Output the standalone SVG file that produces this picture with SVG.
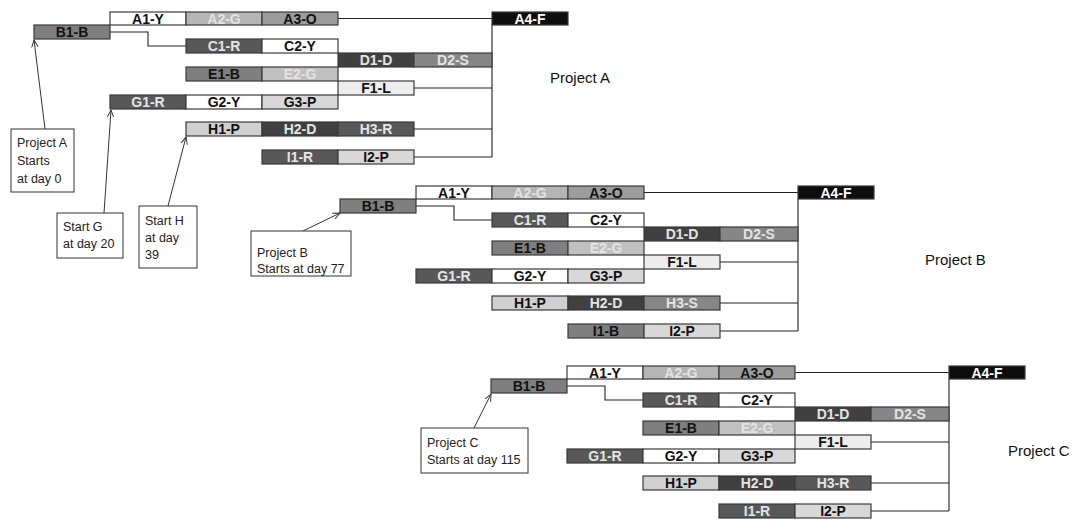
<svg xmlns="http://www.w3.org/2000/svg" width="1077" height="520" viewBox="0 0 1077 520">
<defs>
<style>
.bar rect{stroke:#3a3a3a;stroke-width:1.2}
.bar text{font-family:"Liberation Sans",Arial,sans-serif;font-size:14px;font-weight:bold;text-anchor:middle}
.wh{fill:#ffffff}.a2{fill:#b5b5b5}.a3{fill:#9c9c9c}.blk{fill:#0d0d0d}.bb{fill:#7f7f7f}
.dr{fill:#585858}.dd{fill:#404040}.ds{fill:#868686}.eg{fill:#c0c0c0}.fl{fill:#ededed}.gp{fill:#d8d8d8}.hp{fill:#d0d0d0}
.td{fill:#111111}.tl{fill:#e4e4e4}.tw{fill:#ffffff}
.conn{fill:none;stroke:#222;stroke-width:1.1}
.call rect{fill:#fff;stroke:#333;stroke-width:1}
.call line{stroke:#333;stroke-width:1}
.call text{font-family:"Liberation Sans",Arial,sans-serif;font-size:12.5px;fill:#222}
.lbl{font-family:"Liberation Sans",Arial,sans-serif;font-size:15px;fill:#111}
</style>
<marker id="arr" viewBox="0 0 10 10" refX="9" refY="5" markerWidth="8" markerHeight="8" orient="auto" markerUnits="userSpaceOnUse">
<path d="M0,1 L9,5 L0,9" fill="none" stroke="#333" stroke-width="1.2"/>
</marker>
</defs>

<!-- connectors -->
<g id="connectors">
<g id="conn-A">
<path class="conn" d="M338,18.5 H492 M110,32 H148 V46 H186 M414,88 H492 M414,129 H492 M414,157 H492 M492,25 V157"/>
</g>
<g id="conn-B" transform="translate(306,174)">
<path class="conn" d="M338,18.5 H492 M110,32 H148 V46 H186 M414,88 H492 M414,129 H492 M414,157 H492 M492,25 V157"/>
</g>
<g id="conn-C" transform="translate(457,354)">
<path class="conn" d="M338,18.5 H492 M110,32 H148 V46 H186 M414,88 H492 M414,129 H492 M414,157 H492 M492,25 V157"/>
</g>
</g>

<!-- Project A -->
<g id="projA">
<g id="A-A1-Y" class="bar"><rect class="wh" x="110" y="12" width="76" height="13"/><text class="td" x="148" y="24">A1-Y</text></g>
<g id="A-A2-G" class="bar"><rect class="a2" x="186" y="12" width="76" height="13"/><text class="tl" x="224" y="24">A2-G</text></g>
<g id="A-A3-O" class="bar"><rect class="a3" x="262" y="12" width="76" height="13"/><text class="td" x="300" y="24">A3-O</text></g>
<g id="A-A4-F" class="bar"><rect class="blk" x="492" y="12" width="76" height="13"/><text class="tw" x="530" y="24">A4-F</text></g>
<g id="A-B1-B" class="bar"><rect class="bb" x="34" y="25" width="76" height="14"/><text class="td" x="72" y="37">B1-B</text></g>
<g id="A-C1-R" class="bar"><rect class="dr" x="186" y="39" width="76" height="14"/><text class="tl" x="224" y="51">C1-R</text></g>
<g id="A-C2-Y" class="bar"><rect class="wh" x="262" y="39" width="76" height="14"/><text class="td" x="300" y="51">C2-Y</text></g>
<g id="A-D1-D" class="bar"><rect class="dd" x="338" y="53" width="76" height="14"/><text class="tl" x="376" y="65">D1-D</text></g>
<g id="A-D2-S" class="bar"><rect class="ds" x="414" y="53" width="78" height="14"/><text class="tl" x="453" y="65">D2-S</text></g>
<g id="A-E1-B" class="bar"><rect class="bb" x="186" y="67" width="76" height="14"/><text class="td" x="224" y="79">E1-B</text></g>
<g id="A-E2-G" class="bar"><rect class="eg" x="262" y="67" width="76" height="14"/><text class="tl" x="300" y="79">E2-G</text></g>
<g id="A-F1-L" class="bar"><rect class="fl" x="338" y="81" width="76" height="14"/><text class="td" x="376" y="93">F1-L</text></g>
<g id="A-G1-R" class="bar"><rect class="dr" x="110" y="95" width="76" height="14"/><text class="tl" x="148" y="107">G1-R</text></g>
<g id="A-G2-Y" class="bar"><rect class="wh" x="186" y="95" width="76" height="14"/><text class="td" x="224" y="107">G2-Y</text></g>
<g id="A-G3-P" class="bar"><rect class="gp" x="262" y="95" width="76" height="14"/><text class="td" x="300" y="107">G3-P</text></g>
<g id="A-H1-P" class="bar"><rect class="hp" x="186" y="122" width="76" height="14"/><text class="td" x="224" y="134">H1-P</text></g>
<g id="A-H2-D" class="bar"><rect class="dd" x="262" y="122" width="76" height="14"/><text class="tl" x="300" y="134">H2-D</text></g>
<g id="A-H3-R" class="bar"><rect class="dr" x="338" y="122" width="76" height="14"/><text class="tl" x="376" y="134">H3-R</text></g>
<g id="A-I1-R" class="bar"><rect class="dr" x="262" y="150" width="76" height="14"/><text class="tl" x="300" y="162">I1-R</text></g>
<g id="A-I2-P" class="bar"><rect class="gp" x="338" y="150" width="76" height="14"/><text class="td" x="376" y="162">I2-P</text></g>
</g>

<!-- Project B -->
<g id="projB" transform="translate(306,174)">
<g id="B-A1-Y" class="bar"><rect class="wh" x="110" y="12" width="76" height="13"/><text class="td" x="148" y="24">A1-Y</text></g>
<g id="B-A2-G" class="bar"><rect class="a2" x="186" y="12" width="76" height="13"/><text class="tl" x="224" y="24">A2-G</text></g>
<g id="B-A3-O" class="bar"><rect class="a3" x="262" y="12" width="76" height="13"/><text class="td" x="300" y="24">A3-O</text></g>
<g id="B-A4-F" class="bar"><rect class="blk" x="492" y="12" width="76" height="13"/><text class="tw" x="530" y="24">A4-F</text></g>
<g id="B-B1-B" class="bar"><rect class="bb" x="34" y="25" width="76" height="14"/><text class="td" x="72" y="37">B1-B</text></g>
<g id="B-C1-R" class="bar"><rect class="dr" x="186" y="39" width="76" height="14"/><text class="tl" x="224" y="51">C1-R</text></g>
<g id="B-C2-Y" class="bar"><rect class="wh" x="262" y="39" width="76" height="14"/><text class="td" x="300" y="51">C2-Y</text></g>
<g id="B-D1-D" class="bar"><rect class="dd" x="338" y="53" width="76" height="14"/><text class="tl" x="376" y="65">D1-D</text></g>
<g id="B-D2-S" class="bar"><rect class="ds" x="414" y="53" width="78" height="14"/><text class="tl" x="453" y="65">D2-S</text></g>
<g id="B-E1-B" class="bar"><rect class="bb" x="186" y="67" width="76" height="14"/><text class="td" x="224" y="79">E1-B</text></g>
<g id="B-E2-G" class="bar"><rect class="eg" x="262" y="67" width="76" height="14"/><text class="tl" x="300" y="79">E2-G</text></g>
<g id="B-F1-L" class="bar"><rect class="fl" x="338" y="81" width="76" height="14"/><text class="td" x="376" y="93">F1-L</text></g>
<g id="B-G1-R" class="bar"><rect class="dr" x="110" y="95" width="76" height="14"/><text class="tl" x="148" y="107">G1-R</text></g>
<g id="B-G2-Y" class="bar"><rect class="wh" x="186" y="95" width="76" height="14"/><text class="td" x="224" y="107">G2-Y</text></g>
<g id="B-G3-P" class="bar"><rect class="gp" x="262" y="95" width="76" height="14"/><text class="td" x="300" y="107">G3-P</text></g>
<g id="B-H1-P" class="bar"><rect class="hp" x="186" y="122" width="76" height="14"/><text class="td" x="224" y="134">H1-P</text></g>
<g id="B-H2-D" class="bar"><rect class="dd" x="262" y="122" width="76" height="14"/><text class="tl" x="300" y="134">H2-D</text></g>
<g id="B-H3-S" class="bar"><rect class="ds" x="338" y="122" width="76" height="14"/><text class="tl" x="376" y="134">H3-S</text></g>
<g id="B-I1-B" class="bar"><rect class="bb" x="262" y="150" width="76" height="14"/><text class="td" x="300" y="162">I1-B</text></g>
<g id="B-I2-P" class="bar"><rect class="gp" x="338" y="150" width="76" height="14"/><text class="td" x="376" y="162">I2-P</text></g>
</g>

<!-- Project C -->
<g id="projC" transform="translate(457,354)">
<g id="C-A1-Y" class="bar"><rect class="wh" x="110" y="12" width="76" height="13"/><text class="td" x="148" y="24">A1-Y</text></g>
<g id="C-A2-G" class="bar"><rect class="a2" x="186" y="12" width="76" height="13"/><text class="tl" x="224" y="24">A2-G</text></g>
<g id="C-A3-O" class="bar"><rect class="a3" x="262" y="12" width="76" height="13"/><text class="td" x="300" y="24">A3-O</text></g>
<g id="C-A4-F" class="bar"><rect class="blk" x="492" y="12" width="76" height="13"/><text class="tw" x="530" y="24">A4-F</text></g>
<g id="C-B1-B" class="bar"><rect class="bb" x="34" y="25" width="76" height="14"/><text class="td" x="72" y="37">B1-B</text></g>
<g id="C-C1-R" class="bar"><rect class="dr" x="186" y="39" width="76" height="14"/><text class="tl" x="224" y="51">C1-R</text></g>
<g id="C-C2-Y" class="bar"><rect class="wh" x="262" y="39" width="76" height="14"/><text class="td" x="300" y="51">C2-Y</text></g>
<g id="C-D1-D" class="bar"><rect class="dd" x="338" y="53" width="76" height="14"/><text class="tl" x="376" y="65">D1-D</text></g>
<g id="C-D2-S" class="bar"><rect class="ds" x="414" y="53" width="78" height="14"/><text class="tl" x="453" y="65">D2-S</text></g>
<g id="C-E1-B" class="bar"><rect class="bb" x="186" y="67" width="76" height="14"/><text class="td" x="224" y="79">E1-B</text></g>
<g id="C-E2-G" class="bar"><rect class="eg" x="262" y="67" width="76" height="14"/><text class="tl" x="300" y="79">E2-G</text></g>
<g id="C-F1-L" class="bar"><rect class="fl" x="338" y="81" width="76" height="14"/><text class="td" x="376" y="93">F1-L</text></g>
<g id="C-G1-R" class="bar"><rect class="dr" x="110" y="95" width="76" height="14"/><text class="tl" x="148" y="107">G1-R</text></g>
<g id="C-G2-Y" class="bar"><rect class="wh" x="186" y="95" width="76" height="14"/><text class="td" x="224" y="107">G2-Y</text></g>
<g id="C-G3-P" class="bar"><rect class="gp" x="262" y="95" width="76" height="14"/><text class="td" x="300" y="107">G3-P</text></g>
<g id="C-H1-P" class="bar"><rect class="hp" x="186" y="122" width="76" height="14"/><text class="td" x="224" y="134">H1-P</text></g>
<g id="C-H2-D" class="bar"><rect class="dd" x="262" y="122" width="76" height="14"/><text class="tl" x="300" y="134">H2-D</text></g>
<g id="C-H3-R" class="bar"><rect class="dr" x="338" y="122" width="76" height="14"/><text class="tl" x="376" y="134">H3-R</text></g>
<g id="C-I1-R" class="bar"><rect class="dr" x="262" y="150" width="76" height="14"/><text class="tl" x="300" y="162">I1-R</text></g>
<g id="C-I2-P" class="bar"><rect class="gp" x="338" y="150" width="76" height="14"/><text class="td" x="376" y="162">I2-P</text></g>
</g>

<!-- project labels -->
<text id="label-A" class="lbl" x="550" y="83">Project A</text>
<text id="label-B" class="lbl" x="925" y="265">Project B</text>
<text id="label-C" class="lbl" x="1008" y="456">Project C</text>

<!-- callouts -->
<g id="call-A" class="call">
<line x1="45" y1="129" x2="34" y2="40" marker-end="url(#arr)"/>
<rect x="11" y="129" width="63" height="63"/>
<text x="17" y="147">Project A</text><text x="17" y="165">Starts</text><text x="17" y="183">at day 0</text>
</g>
<g id="call-G" class="call">
<line x1="104" y1="213" x2="111" y2="110" marker-end="url(#arr)"/>
<rect x="57" y="213" width="66" height="45"/>
<text x="63" y="231">Start G</text><text x="63" y="248">at day 20</text>
</g>
<g id="call-H" class="call">
<line x1="168" y1="206" x2="186" y2="137" marker-end="url(#arr)"/>
<rect x="139" y="206" width="58" height="62"/>
<text x="145" y="225">Start H</text><text x="145" y="242">at day</text><text x="145" y="259">39</text>
</g>
<g id="call-B" class="call">
<line x1="303" y1="231" x2="340" y2="213" marker-end="url(#arr)"/>
<rect x="251" y="231" width="100" height="45"/>
<text x="257" y="257">Project B</text><text x="257" y="273">Starts at day 77</text>
</g>
<g id="call-C" class="call">
<line x1="474" y1="428" x2="491" y2="394" marker-end="url(#arr)"/>
<rect x="421" y="428" width="107" height="45"/>
<text x="427" y="447">Project C</text><text x="427" y="464">Starts at day 115</text>
</g>
</svg>
